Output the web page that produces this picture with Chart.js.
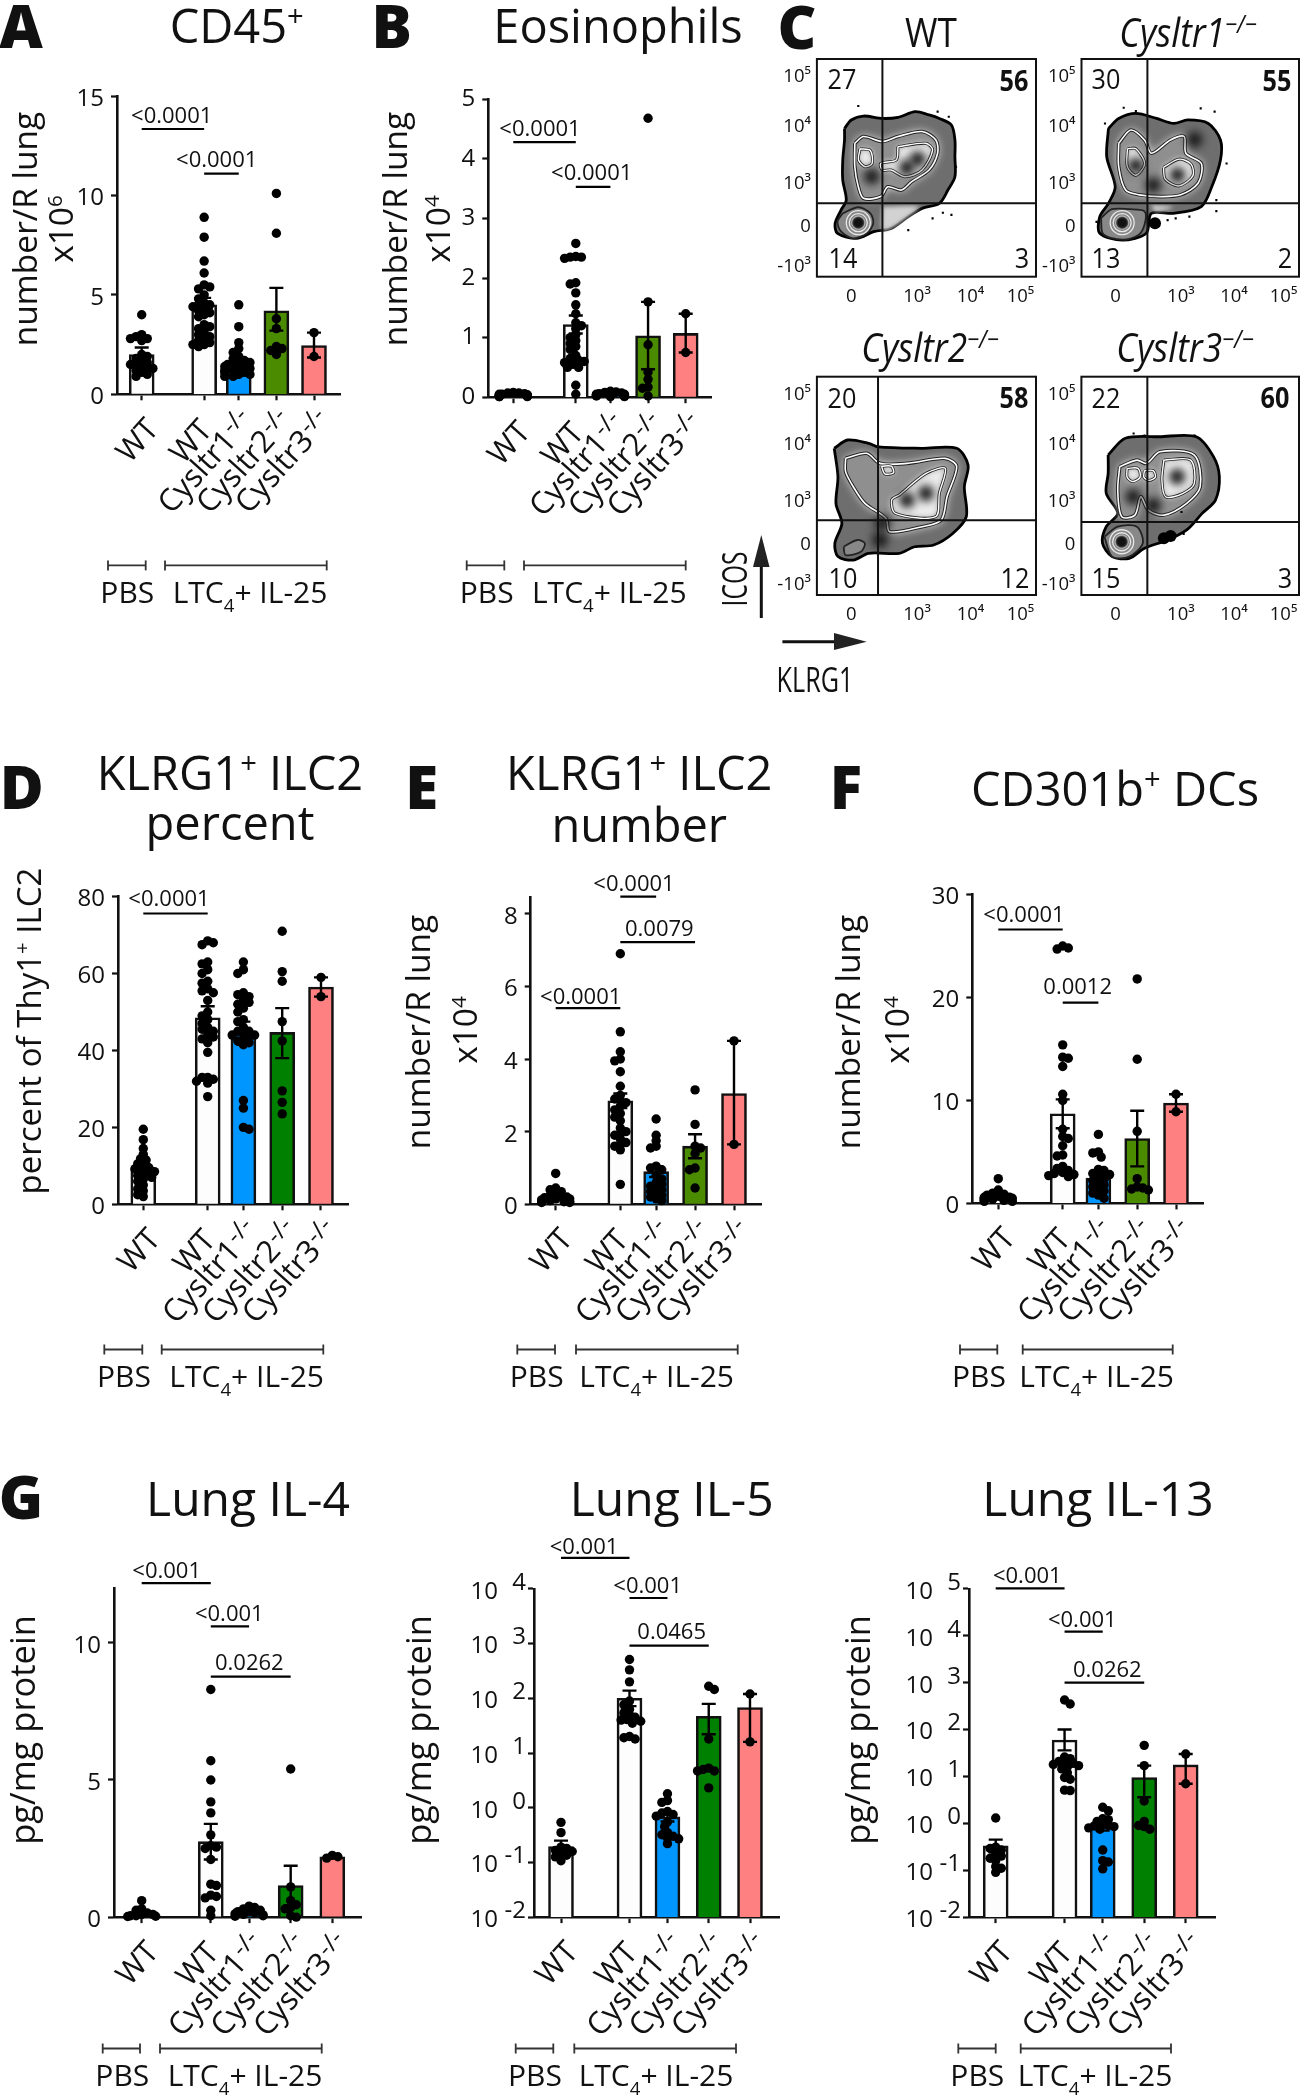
<!DOCTYPE html>
<html>
<head>
<meta charset="utf-8">
<title>Lung panels</title>
<script src="https://cdn.jsdelivr.net/npm/chart.js@4/dist/chart.umd.js"></script>
<style>
    html, body { margin: 0; background: #fff; }
    #page { position: relative; width: 1301px; height: 2100px; overflow: hidden; font-family: "Open Sans", sans-serif; color: #111; }
    #page canvas, #page svg { position: absolute; }
    .txt { position: absolute; white-space: nowrap; line-height: 1; }
    .txt sup { font-size: 0.62em; line-height: 0; vertical-align: 0.55em; }
    .txt sub { font-size: 0.62em; line-height: 0; vertical-align: -0.5em; }
</style>
</head>
<body>
<div id="page"></div>
<script>
// Groups, same order in every bar panel
const groupLabels = ['WT', 'WT', 'Cysltr1', 'Cysltr2', 'Cysltr3'];
const groupSup = ['', '', '-/-', '-/-', '-/-'];
const groupX = [0, 1.66, 2.58, 3.58, 4.58];

// CD45+
const cd45Ticks = [0, 5, 10, 15];
const cd45Means = [2.0, 4.5, 1.65, 4.2, 2.45];
const cd45Low = [1.65, 4.15, 1.45, 3.2, 1.85];
const cd45High = [2.35, 4.85, 1.85, 5.35, 3.1];
const cd45Sig = [[0, 1, 13.34], [1, 2, 11.1]];
const cd45Points = [
    [4.0, 3.0, 2.9, 2.8, 2.8, 2.7, 2.0, 1.9, 1.8, 1.7, 1.6, 1.5, 1.5, 1.4, 1.3, 1.3, 1.2, 1.1, 1.0, 0.9],
    [8.9, 7.9, 6.7, 6.1, 5.5, 5.4, 5.3, 5.0, 4.8, 4.6, 4.5, 4.5, 4.4, 4.3, 4.2, 4.1, 4.0, 3.9, 3.5, 3.4, 3.3, 3.1, 3.0, 2.9, 2.8, 2.7, 2.6, 2.5, 2.5, 2.4],
    [4.5, 3.4, 2.6, 2.3, 2.1, 1.9, 1.8, 1.7, 1.6, 1.6, 1.5, 1.5, 1.4, 1.4, 1.3, 1.3, 1.2, 1.2, 1.1, 1.1, 1.0, 1.0, 0.9, 0.9],
    [10.1, 8.1, 3.8, 3.3, 2.4, 2.3, 2.2, 2.0],
    [3.1, 1.9]
];

// Eosinophils
const eosTicks = [0, 1, 2, 3, 4, 5];
const eosMeans = [0.03, 1.22, 0.04, 1.03, 1.07];
const eosLow = [0.02, 1.07, 0.02, 0.47, 0.75];
const eosHigh = [0.05, 1.37, 0.06, 1.6, 1.4];
const eosSig = [[0, 1, 4.28], [1, 2, 3.53]];
const eosPoints = [
    [0.08, 0.07, 0.07, 0.06, 0.05, 0.05, 0.04, 0.04, 0.03, 0.03, 0.02, 0.02, 0.02, 0.01, 0.01, 0.01],
    [2.58, 2.36, 2.35, 2.35, 2.33, 1.92, 1.9, 1.75, 1.55, 1.4, 1.25, 1.2, 1.15, 1.05, 1.0, 0.95, 0.9, 0.85, 0.8, 0.7, 0.65, 0.62, 0.6, 0.58, 0.55, 0.5, 0.5, 0.2, 0.05],
    [0.1, 0.09, 0.08, 0.07, 0.06, 0.05, 0.05, 0.04, 0.04, 0.03, 0.03, 0.02, 0.02, 0.01, 0.01],
    [4.68, 1.6, 0.88, 0.42, 0.3, 0.17, 0.15, 0.02],
    [1.4, 0.75]
];

// KLRG1+ ILC2 percent
const pctTicks = [0, 20, 40, 60, 80];
const pctMeans = [9.3, 48.5, 44.5, 44.7, 56.5];
const pctLow = [8.1, 45.5, 41.5, 38, 54];
const pctHigh = [10.5, 51.5, 47.5, 51, 59];
const pctSig = [[0, 1, 75.6]];
const pctPoints = [
    [19.5, 16.8, 14.5, 13, 11.8, 11.5, 10.5, 10, 9.5, 9.2, 8.8, 8.5, 8, 7.5, 7, 6.5, 6, 5, 4, 3.5, 2.5, 2],
    [68.5, 68, 67.5, 63, 62.5, 61, 60, 58, 57.5, 56, 55.5, 55, 53, 50, 49, 48, 47, 46, 45.5, 45, 44, 43.5, 43, 42, 39.5, 33, 33, 32.5, 32, 31.5, 28],
    [63, 61, 60, 55, 54.5, 54, 53, 52.5, 52, 51, 50, 48, 47.5, 46, 45, 45, 44.5, 44, 44, 43.5, 43, 42.5, 42, 41.5, 27, 25, 20, 19.5],
    [71, 60.5, 58, 47.5, 42.5, 29.5, 26.5, 23.5],
    [59, 54]
];

// KLRG1+ ILC2 number
const numTicks = [0, 2, 4, 6, 8];
const numMeans = [0.2, 2.85, 0.9, 1.6, 3.05];
const numLow = [0.13, 2.65, 0.75, 1.27, 1.65];
const numHigh = [0.27, 3.05, 1.05, 1.93, 4.5];
const numSig = [[0, 1, 5.4], [1, 2, 8.47], [1, 3, 7.22]];
const numPoints = [
    [0.85, 0.45, 0.4, 0.35, 0.3, 0.25, 0.2, 0.2, 0.18, 0.15, 0.15, 0.12, 0.1, 0.1, 0.08, 0.07, 0.05, 0.05],
    [6.9, 4.75, 4.2, 4.0, 3.95, 3.65, 3.25, 3.0, 2.9, 2.85, 2.8, 2.7, 2.6, 2.5, 2.4, 2.3, 2.1, 2, 1.95, 1.9, 1.8, 1.7, 1.65, 1.6, 1.5, 0.55],
    [2.35, 1.9, 1.75, 1.6, 1.55, 1.05, 1, 0.95, 0.8, 0.7, 0.6, 0.55, 0.5, 0.45, 0.4, 0.35, 0.3, 0.25, 0.2, 0.15, 0.1],
    [3.15, 2.2, 1.6, 1.55, 1.4, 1.0, 0.95, 0.45],
    [4.5, 1.65]
];

// CD301b+ DCs
const dcTicks = [0, 10, 20, 30];
const dcMeans = [0.7, 8.7, 2.45, 6.3, 9.75];
const dcLow = [0.55, 7.3, 2.05, 3.6, 8.9];
const dcHigh = [0.85, 10.1, 2.85, 9, 10.6];
const dcSig = [[0, 1, 26.6], [1, 2, 19.5]];
const dcPoints = [
    [2.4, 1.3, 1.0, 0.9, 0.8, 0.7, 0.6, 0.6, 0.5, 0.5, 0.4, 0.4, 0.3, 0.3, 0.2, 0.2],
    [25, 24.8, 24.7, 15.4, 14.2, 14.1, 13.3, 10.6, 10, 7.2, 6.5, 6.3, 5.6, 4.7, 4.6, 3.6, 3.4, 3.2, 3.0, 2.9, 2.8, 2.7, 2.6],
    [6.7, 5, 4.9, 4.5, 3.3, 3.2, 2.9, 2.8, 2.6, 2.4, 2.2, 2, 1.8, 1.6, 1.4, 1.2, 1, 0.8, 0.5],
    [21.8, 14, 7, 2.4, 1.6, 1.5, 1.4, 1.3],
    [10.6, 8.9]
];

// Lung IL-4
const il4Ticks = [0, 5, 10];
const il4Means = [0.1, 2.75, 0.22, 1.15, 2.2];
const il4Low = [0.05, 2.1, 0.17, 0.43, 2.15];
const il4High = [0.15, 3.4, 0.27, 1.87, 2.25];
const il4Sig = [[0, 1, 12.18], [1, 2, 10.6], [1, 3, 8.77]];
const il4Points = [
    [0.6, 0.3, 0.25, 0.15, 0.1, 0.1, 0.05, 0.05, 0.03, 0.02],
    [8.3, 5.7, 5.0, 4.2, 3.8, 3.0, 2.6, 2.55, 2.5, 2.1, 1.2, 1.15, 0.8, 0.75, 0.7, 0.25, 0.05],
    [0.4, 0.35, 0.3, 0.25, 0.2, 0.2, 0.15, 0.12, 0.1, 0.08, 0.05, 0.03],
    [5.4, 1.1, 0.6, 0.45, 0.35, 0.3, 0.05, 0.0],
    [2.25, 2.2, 2.15]
];

// Lung IL-5 (log axis)
const il5Ticks = [0.01, 0.1, 1, 10, 100, 1000, 10000];
const il5Means = [0.195, 100, 0.68, 47, 68];
const il5Low = [0.15, 72, 0.56, 22, 16];
const il5High = [0.25, 138, 0.8, 79, 120];
const il5Sig = [[0, 1, 36983], [1, 2, 6823], [1, 3, 920]];
const il5Points = [
    [0.54, 0.35, 0.19, 0.18, 0.166, 0.158, 0.148, 0.135, 0.126, 0.107],
    [513, 331, 200, 89, 76, 63, 54, 50, 45, 41, 40, 38, 35, 20, 19, 18],
    [1.8, 1.35, 1.25, 0.85, 0.8, 0.75, 0.7, 0.55, 0.45, 0.35, 0.32, 0.3, 0.28, 0.27, 0.22],
    [166, 145, 18, 5.3, 5, 4.7, 4.7, 2.3],
    [120, 16]
];

// Lung IL-13 (log axis)
const il13Ticks = [0.01, 0.1, 1, 10, 100, 1000, 10000, 100000];
const il13Means = [0.33, 60, 0.9, 9.5, 17.6];
const il13Low = [0.24, 36, 0.7, 3.6, 7];
const il13High = [0.45, 100, 1.15, 17, 30];
const il13Sig = [[0, 1, 103000], [1, 2, 12300], [1, 3, 1000]];
const il13Points = [
    [1.3, 0.31, 0.29, 0.27, 0.22, 0.2, 0.18, 0.16, 0.12, 0.11, 0.09],
    [427, 350, 26, 24, 21, 20, 19, 18, 17, 16, 14.5, 12, 9.5, 8.7, 5.1, 5],
    [2.2, 1.85, 1.25, 1.2, 1.1, 0.95, 0.9, 0.88, 0.85, 0.8, 0.75, 0.27, 0.16, 0.15, 0.107],
    [46, 17, 3, 1.1, 0.9, 0.85, 0.75],
    [30, 7]
];

// Flow plots: channels are in percent of the axis length
const flowXTicks = [15.7, 45.7, 70.1, 92.9];
const flowXLabels = ['0', '10³', '10⁴', '10⁵'];
const flowYTicks = [4.6, 23, 42.9, 68.9, 91.9];
const flowYLabels = ['-10³', '0', '10³', '10⁴', '10⁵'];

const wtOuter = [[12.6,68.1],[15.7,72],[21.3,73.8],[29.9,72.7],[37,73.2],[44.9,75.8],[51.2,74.3],[55.9,72.7],[61.4,69.7],[63,62.8],[63,55.1],[63,45.9],[59.8,39.8],[55.9,33.7],[48,31.4],[41.7,27.6],[33.9,22.2],[26,20.7],[18.1,17.6],[9.4,19.9],[8.3,24.5],[11,30.6],[13.4,35.2],[11.8,44.4],[11.8,53.6],[12.6,62.8]];
const wtMid = [[17.3,61.3],[21.3,64.4],[29.9,62.1],[37,64.4],[48,66.7],[54.3,62.8],[55.1,56.7],[51.2,49],[43.3,43.7],[38.6,39.8],[32.4,41.3],[29.1,36.8],[21.3,36],[18.9,41.3],[17.3,50.5]];
const wtInner = [
    [[19.7,58.8],[24.4,58],[25.2,52],[22,50.5],[19,53.6]],
    [[37,59.7],[49.6,61.3],[52.8,58.2],[48,49],[40.2,45.9],[33.9,49],[29.9,49],[29.1,52],[36.2,53.6]]
];
const wtDark = [[46,54], [41,50], [25,46]];
const wtLymph = [[11.8,29.1],[18.9,31.9],[24.4,29.1],[25.7,24.5],[22.8,19.9],[16.5,17.6],[11,20.8],[9.4,25.3]];
const wtLymphCentre = [18.9, 24.8];
const wtPale = [[29.9,32.2],[46.5,32.2],[41.7,27.6],[33.9,22.2],[29.9,21.4]];
const wtBlack = [];
const wtStray = [[18.9,78.4],[55.1,75.8],[60.2,73.5],[41.7,21.4],[52.8,26.8],[61.4,28.4],[57.5,29.4],[63.5,50.5]];

const cys1Outer = [[12.4,68.1],[17.1,72.7],[25,75],[34.5,72.7],[42.4,70.4],[48.8,72],[58.3,70.4],[63.9,62.8],[63.9,53.6],[59.9,41.3],[55.1,32.2],[42.4,29.1],[32.1,29.1],[29.8,20],[18.7,16.8],[8.4,20],[8.4,27.6],[12.4,33.7],[15.5,41.3],[11.6,55.1]];
const cys1Mid = [[17.1,61.3],[22.7,67.4],[29,62.8],[32.2,56.7],[40.9,62.8],[47.2,64.4],[48,56.7],[55.1,52],[53.6,42.9],[45.6,37.6],[36.1,36.8],[26.6,37.6],[20.3,39.8],[17.1,50.5]];
const cys1Inner = [
    [[21.1,58.8],[25,58.8],[29,52],[25,46.6],[21.1,50.5]],
    [[37.7,50.2],[44.8,54],[50.4,51.7],[51.2,46.3],[44.8,41.7],[38.5,44.8]]
];
const cys1Dark = [[44.1,46.7], [52,63], [25,51], [33,42]];
const cys1Lymph = [[9,27],[14,31],[22,31],[29,30],[29,24],[26,19],[18.7,17],[10,19.5]];
const cys1LymphCentre = [18.7, 24.8];
const cys1Pale = [[32,33],[42,32],[34,30]];
const cys1Black = [[33.8,24.5]];
const cys1Stray = [[19.4,77.6],[25,76.1],[10.8,70.4],[54.8,77.3],[61.2,75.8],[6.9,25.2],[66.7,52],[62,35.2],[62,30.1],[49.6,27.6],[43.3,26.8],[39.6,26]];

const cys2Outer = [[7.9,67.2],[14,71],[23.6,69.5],[28,67.9],[48,67.2],[63.8,67.2],[69,59.5],[67.3,49.6],[68.2,35.9],[62,28.2],[53.3,22.9],[44.6,22.1],[37.6,19.1],[23.6,19.1],[16.6,16],[9.6,17.6],[8.2,23.7],[11.4,32.8],[8.7,41.9],[9.6,54.1]];
const cys2Mid = [[13.1,62.6],[22.7,64.9],[28.8,60.3],[41.1,60.3],[58.6,62.6],[63.8,58.8],[59.4,45],[56.8,34.4],[48,31.3],[33.2,29],[31.5,35.1],[21.9,42],[16.6,49.6],[13.1,56.5]];
const cys2Inner = [
    [[37.6,45.8],[49.8,55.7],[58.6,58],[55.9,46.6],[54.2,35.9],[35.8,37.4],[34.1,43.5]],
    [[29.5,59],[34,59],[35,56],[31,55.5]]
];
const cys2Dark = [[49.8,46.6], [41.1,43.5], [28.8,25.2], [30,33]];
const cys2Lymph = [[12.2,22.1],[18.4,25.2],[21.9,23.7],[20.1,19.8],[13.1,18.3]];
const cys2LymphCentre = null;
const cys2Pale = [];
const cys2Black = [];
const cys2Stray = [];

const cys3Outer = [[12.3,64.1],[20.2,71.8],[36,72.5],[52.8,72.5],[60.7,63.4],[63.4,54.2],[61.6,43.5],[55.5,37.4],[48.4,29.8],[39.6,25.2],[29,21.4],[22,16.8],[14.1,17.6],[9.7,23.7],[11.4,31.3],[16.7,37.4],[11.4,46.6],[12.3,55.7]];
const cys3Mid = [[17.6,58.8],[25.5,61.8],[29.9,60.3],[36.1,65.6],[51.9,64.1],[54.6,49.6],[48.4,42],[37.9,36.6],[30.8,38.9],[27.3,45],[24.6,36.6],[18.5,35.9],[16.7,48.1]];
const cys3Inner = [
    [[37.9,61.8],[50.2,61.8],[51.9,51.1],[46.7,46.6],[38.7,45],[37,52.7]],
    [[21,58],[26,58],[27,54],[23.5,52],[21,54]],
    [[29,57],[33,57],[34,54],[31,52.5],[28.7,54]]
];
const cys3Dark = [[44,54.2], [23.8,45], [33,41]];
const cys3Lymph = [[10.6,26.7],[16.7,31.3],[25.5,31.3],[28.2,23.7],[22,17.6],[14.1,17.6]];
const cys3LymphCentre = [18.5, 24.4];
const cys3Pale = [];
const cys3Black = [[37.9,26], [41,27]];
const cys3Stray = [[24,74],[29,73],[52,73],[46,38],[47,28]];

// Bar colours
const WHITE = '#fdfdfd', BLUE = '#0096ff', OLIVE = '#4b8b00', GREEN = '#008000', PINK = '#ff8080';

// Where each bar panel sits on the page
const barPanels = [
    { means: cd45Means, low: cd45Low, high: cd45High, points: cd45Points, ticks: cd45Ticks, sig: cd45Sig, green: OLIVE, yMax: 15, left: 117, right: 340, top: 96, bottom: 394.3, first: 141.7, last: 314, labelDrop: 3 },
    { means: eosMeans, low: eosLow, high: eosHigh, points: eosPoints, ticks: eosTicks, sig: eosSig, green: OLIVE, yMax: 5, left: 488.3, right: 711.7, top: 99.2, bottom: 397.2, first: 513.3, last: 685.7, labelDrop: 0 },
    { means: pctMeans, low: pctLow, high: pctHigh, points: pctPoints, ticks: pctTicks, sig: pctSig, green: GREEN, yMax: 80, left: 118, right: 348, top: 896.6, bottom: 1204.3, first: 143.3, last: 321, labelDrop: 3 },
    { means: numMeans, low: numLow, high: numHigh, points: numPoints, ticks: numTicks, sig: numSig, green: OLIVE, yMax: 8.44, left: 530.7, right: 761.7, top: 897.8, bottom: 1204.3, first: 555.7, last: 734, labelDrop: 3 },
    { means: dcMeans, low: dcLow, high: dcHigh, points: dcPoints, ticks: dcTicks, sig: dcSig, green: OLIVE, yMax: 30, left: 972.3, right: 1203.3, top: 894.5, bottom: 1203.4, first: 998.3, last: 1176, labelDrop: 3 },
    { means: il4Means, low: il4Low, high: il4High, points: il4Points, ticks: il4Ticks, sig: il4Sig, green: GREEN, yMax: 12, left: 114, right: 361.7, top: 1588, bottom: 1917.1, first: 141.7, last: 332.3, labelDrop: 3 },
    { means: il5Means, low: il5Low, high: il5High, points: il5Points, ticks: il5Ticks, sig: il5Sig, green: GREEN, yMin: 0.01, yMax: 10000, log: true, left: 534, right: 779.3, top: 1588.9, bottom: 1917.1, first: 561, last: 750, labelDrop: 3 },
    { means: il13Means, low: il13Low, high: il13High, points: il13Points, ticks: il13Ticks, sig: il13Sig, green: GREEN, yMin: 0.01, yMax: 100000, log: true, left: 969, right: 1215, top: 1588.9, bottom: 1917.1, first: 995.7, last: 1185.7, labelDrop: 3 }
];

const flowPanels = [
    { outer: wtOuter, mid: wtMid, inner: wtInner, dark: wtDark, lymph: wtLymph, centre: wtLymphCentre, pale: wtPale, black: wtBlack, stray: wtStray, left: 816.9, right: 1036, top: 59, bottom: 276.7, qx: 29.9, qy: 33.7 },
    { outer: cys1Outer, mid: cys1Mid, inner: cys1Inner, dark: cys1Dark, lymph: cys1Lymph, centre: cys1LymphCentre, pale: cys1Pale, black: cys1Black, stray: cys1Stray, left: 1081.5, right: 1299, top: 59, bottom: 276.7, qx: 30.3, qy: 33.7 },
    { outer: cys2Outer, mid: cys2Mid, inner: cys2Inner, dark: cys2Dark, lymph: cys2Lymph, centre: cys2LymphCentre, pale: cys2Pale, black: cys2Black, stray: cys2Stray, left: 816.9, right: 1036, top: 376.7, bottom: 595, qx: 27.9, qy: 34.2 },
    { outer: cys3Outer, mid: cys3Mid, inner: cys3Inner, dark: cys3Dark, lymph: cys3Lymph, centre: cys3LymphCentre, pale: cys3Pale, black: cys3Black, stray: cys3Stray, left: 1081.4, right: 1299, top: 376.7, bottom: 595, qx: 30.3, qy: 33.4 }
];

// Text: centre x, centre y, html, size, extra options
const FONT = '"Open Sans", sans-serif';
const CONDENSED = 0.88;
const pageTexts = [
    // panel letters
    [21, 25, 'A', 60, { weight: 800 }], [391.7, 25, 'B', 60, { weight: 800 }], [797, 26, 'C', 60, { weight: 800 }],
    [21.7, 786, 'D', 60, { weight: 800 }], [421.7, 786, 'E', 60, { weight: 800 }], [846, 786, 'F', 60, { weight: 800 }], [21, 1496, 'G', 60, { weight: 800 }],
    // titles
    [236.7, 25, 'CD45<sup>+</sup>', 47], [618, 25, 'Eosinophils', 47],
    [230, 771.6, 'KLRG1<sup>+</sup> ILC2', 47], [230, 822, 'percent', 47],
    [639.3, 771.6, 'KLRG1<sup>+</sup> ILC2', 47], [639.3, 824, 'number', 47],
    [1115, 788.4, 'CD301b<sup>+</sup> DCs', 47],
    [248, 1497.7, 'Lung IL-4', 48], [671.7, 1497.7, 'Lung IL-5', 48], [1098, 1497.7, 'Lung IL-13', 48],
    // y axis titles
    [25, 228.6, 'number/R lung', 33.5, { rot: -90 }], [61, 228.6, 'x10<sup>6</sup>', 33.5, { rot: -90 }],
    [395, 228.6, 'number/R lung', 33.5, { rot: -90 }], [438, 228.6, 'x10<sup>4</sup>', 33.5, { rot: -90 }],
    [28, 1030.5, 'percent of Thy1<sup>+</sup> ILC2', 33, { rot: -90 }],
    [418, 1031.5, 'number/R lung', 33.5, { rot: -90 }], [465, 1030.4, 'x10<sup>4</sup>', 33.5, { rot: -90 }],
    [848.3, 1031.5, 'number/R lung', 33.5, { rot: -90 }], [897, 1030.4, 'x10<sup>4</sup>', 33.5, { rot: -90 }],
    [21.7, 1729.8, 'pg/mg protein', 34.5, { rot: -90 }], [418, 1729.8, 'pg/mg protein', 34.5, { rot: -90 }], [856.7, 1729.8, 'pg/mg protein', 34.5, { rot: -90 }],
    // p values
    [171.7, 113.5, '&lt;0.0001', 22], [216.7, 158.4, '&lt;0.0001', 22],
    [540, 126.5, '&lt;0.0001', 22], [591.7, 170.6, '&lt;0.0001', 22],
    [169, 896.6, '&lt;0.0001', 22],
    [580.7, 994.6, '&lt;0.0001', 22], [634, 881.8, '&lt;0.0001', 22], [659.3, 926.5, '0.0079', 22],
    [1024, 912.6, '&lt;0.0001', 22], [1077.7, 985.4, '0.0012', 22],
    [166.7, 1569.4, '&lt;0.001', 22], [229.3, 1611.7, '&lt;0.001', 22], [249.3, 1660.6, '0.0262', 22],
    [584, 1544.5, '&lt;0.001', 22], [647.7, 1583.9, '&lt;0.001', 22], [671.7, 1630.3, '0.0465', 22],
    [1027.3, 1573.5, '&lt;0.001', 22], [1082.3, 1617.9, '&lt;0.001', 22], [1107.3, 1667.6, '0.0262', 22],
    // treatment groups
    [127.3, 592, 'PBS', 30], [250, 592, 'LTC<sub>4</sub>+ IL-25', 30],
    [486.7, 592, 'PBS', 30], [609.3, 592, 'LTC<sub>4</sub>+ IL-25', 30],
    [124, 1375.6, 'PBS', 30], [246.7, 1375.6, 'LTC<sub>4</sub>+ IL-25', 30],
    [536.7, 1375.6, 'PBS', 30], [656.7, 1375.6, 'LTC<sub>4</sub>+ IL-25', 30],
    [979, 1375.6, 'PBS', 30], [1096.7, 1375.6, 'LTC<sub>4</sub>+ IL-25', 30],
    [122.3, 2075, 'PBS', 30], [245, 2075, 'LTC<sub>4</sub>+ IL-25', 30],
    [535, 2075, 'PBS', 30], [656, 2075, 'LTC<sub>4</sub>+ IL-25', 30],
    [977.3, 2075, 'PBS', 30], [1095, 2075, 'LTC<sub>4</sub>+ IL-25', 30],
    // flow plots
    [930.8, 32, 'WT', 40, { sx: CONDENSED }], [1188, 32, '<i>Cysltr1</i><sup><i>−/−</i></sup>', 40, { sx: CONDENSED }],
    [930, 346.7, '<i>Cysltr2</i><sup><i>−/−</i></sup>', 40, { sx: CONDENSED }], [1185, 346.7, '<i>Cysltr3</i><sup><i>−/−</i></sup>', 40, { sx: CONDENSED }],
    [841.8, 78.3, '27', 28, { sx: 0.9 }], [1014.3, 80, '56', 28, { sx: 0.9, weight: 700 }], [842.8, 256.7, '14', 28, { sx: 0.9 }], [1022.2, 256.7, '3', 28, { sx: 0.9 }],
    [1106, 78.3, '30', 28, { sx: 0.9 }], [1276.5, 80, '55', 28, { sx: 0.9, weight: 700 }], [1106, 256.7, '13', 28, { sx: 0.9 }], [1285.4, 256.7, '2', 28, { sx: 0.9 }],
    [841.8, 396.7, '20', 28, { sx: 0.9 }], [1013.5, 396.7, '58', 28, { sx: 0.9, weight: 700 }], [842.6, 577.3, '10', 28, { sx: 0.9 }], [1015, 577.3, '12', 28, { sx: 0.9 }],
    [1106.3, 396.7, '22', 28, { sx: 0.9 }], [1275, 396.7, '60', 28, { sx: 0.9, weight: 700 }], [1106.3, 577.3, '15', 28, { sx: 0.9 }], [1284.5, 577.3, '3', 28, { sx: 0.9 }],
    [732.6, 579, 'ICOS', 35, { rot: -90, sx: 0.7 }], [815, 678.3, 'KLRG1', 35, { sx: 0.72 }]
];

// Treatment brackets: from x, to x, y
const brackets = [
    [108, 145.7, 565.4], [165, 326.7, 565.4], [466.7, 504.3, 565.4], [524, 685.7, 565.4],
    [104.3, 142.3, 1349.5], [161.7, 323.3, 1349.5], [517.3, 555, 1349.5], [576, 737.7, 1349.5],
    [960, 997.3, 1349.5], [1022.7, 1172.7, 1349.5],
    [102.7, 140, 2048.5], [160, 321.7, 2048.5], [515.7, 553.3, 2048.5], [574.3, 736, 2048.5],
    [958.3, 995.7, 2048.5], [1020.7, 1171, 2048.5]
];

const page = document.getElementById('page');

function addText(item) {
    const [x, y, html, size, opt = {}] = item;
    const el = document.createElement('div');
    el.className = 'txt';
    el.style.left = x + 'px';
    el.style.top = y + 'px';
    el.style.fontSize = size + 'px';
    el.style.fontWeight = opt.weight || 400;
    el.innerHTML = html;
    const rot = opt.rot ? ` rotate(${opt.rot}deg)` : '';
    const scale = opt.sx ? ` scale(${opt.sx}, 1)` : '';
    el.style.transform = `translate(-50%, -50%)${rot}${scale}`;
    page.appendChild(el);
}

// Brackets and the two arrows next to panel C
function addOverlay() {
    const ns = 'http://www.w3.org/2000/svg';
    const svg = document.createElementNS(ns, 'svg');
    svg.setAttribute('width', 1301);
    svg.setAttribute('height', 2100);
    svg.style.left = '0';
    svg.style.top = '0';
    const line = (x1, y1, x2, y2, w, c) => {
        const l = document.createElementNS(ns, 'line');
        Object.entries({ x1, y1, x2, y2, stroke: c, 'stroke-width': w }).forEach(([k, v]) => l.setAttribute(k, v));
        svg.appendChild(l);
    };
    brackets.forEach(([a, b, y]) => {
        line(a, y, b, y, 1.8, '#333');
        line(a, y - 5, a, y + 5, 1.8, '#333');
        line(b, y - 5, b, y + 5, 1.8, '#333');
    });
    line(761.3, 618, 761.3, 560, 3, '#111');
    line(782.4, 641.7, 840, 641.7, 3, '#111');
    const arrows = ['753,567 769.5,567 761.3,535', '834,633 834,650 866.7,641.7'];
    arrows.forEach(points => {
        const p = document.createElementNS(ns, 'polygon');
        p.setAttribute('points', points);
        p.setAttribute('fill', '#222');
        svg.appendChild(p);
    });
    page.appendChild(svg);
}

function newCanvas(x0, y0, w, h) {
    const canvas = document.createElement('canvas');
    canvas.width = w;
    canvas.height = h;
    canvas.style.left = x0 + 'px';
    canvas.style.top = y0 + 'px';
    page.appendChild(canvas);
    return canvas;
}

// Sideways spread of the dots so they do not stack on one line
function swarmOffsets(values, toPx) {
    const placed = [];
    return values.map((v, idx) => {
        const py = toPx(v);
        const side = idx % 2 ? 1 : -1;
        let off = 0;
        for (let k = 0; k < 11; k++) {
            off = k === 0 ? 0 : side * (k % 2 ? 1 : -1) * Math.ceil(k / 2) * 2.8;
            if (placed.every(p => Math.hypot(off - p.off, py - p.py) >= 5.2)) break;
        }
        placed.push({ off, py });
        return off;
    });
}

// Error bars on top of the dots
const errorBarsPlugin = {
    id: 'errorBars',
    afterDatasetsDraw(chart, args, opts) {
        const { ctx, scales: { x, y } } = chart;
        ctx.save();
        ctx.strokeStyle = '#000';
        ctx.lineWidth = 2.4;
        groupX.forEach((gx, i) => {
            const px = x.getPixelForValue(gx);
            const yLow = y.getPixelForValue(opts.low[i]);
            const yHigh = y.getPixelForValue(opts.high[i]);
            ctx.beginPath();
            ctx.moveTo(px, yLow);
            ctx.lineTo(px, yHigh);
            ctx.moveTo(px - 7, yLow);
            ctx.lineTo(px + 7, yLow);
            ctx.moveTo(px - 7, yHigh);
            ctx.lineTo(px + 7, yHigh);
            ctx.stroke();
        });
        ctx.restore();
    }
};

// Category names, slanted; each one sits a bit differently under its tick
const LABEL_SHIFT = [[12, 30], [3, 31], [10, 22], [11, 22], [12, 22]];
const groupLabelsPlugin = {
    id: 'groupNames',
    afterDraw(chart) {
        const { ctx, scales: { x } } = chart;
        groupLabels.forEach((name, i) => {
            const px = x.getPixelForValue(groupX[i]) + LABEL_SHIFT[i][0];
            ctx.save();
            ctx.translate(px, x.top + LABEL_SHIFT[i][1]);
            ctx.rotate(-48 * Math.PI / 180);
            ctx.fillStyle = '#111';
            ctx.textBaseline = 'middle';
            ctx.textAlign = 'right';
            let end = 0;
            if (groupSup[i]) {
                ctx.font = `25px ${FONT}`;
                ctx.fillText(groupSup[i], 0, -7);
                end = ctx.measureText(groupSup[i]).width + 1;
            }
            ctx.font = `31px ${FONT}`;
            ctx.fillText(name, -end, 0);
            ctx.restore();
        });
    }
};

// Raised exponents next to the "10" of the log axes
const exponentsPlugin = {
    id: 'exponents',
    afterDraw(chart) {
        const { ctx, scales: { y } } = chart;
        if (y.type !== 'logarithmic') return;
        ctx.save();
        ctx.fillStyle = '#111';
        ctx.font = `24px ${FONT}`;
        ctx.textAlign = 'right';
        ctx.textBaseline = 'middle';
        y.ticks.forEach(t => {
            ctx.fillText(String(Math.round(Math.log10(t.value))), y.right - 8, y.getPixelForValue(t.value) - 6);
        });
        ctx.restore();
    }
};

function drawBarPanel(p) {
    const yw = 80, xh = 10;
    const x0 = Math.round(p.left - 95), y0 = Math.round(p.top - 60);
    const w = Math.round(p.right + 25 - x0), h = Math.round(p.bottom + 160 - y0);
    const unit = (p.last - p.first) / groupX[groupX.length - 1];
    const xMin = -(p.first - p.left) / unit;
    const xMax = (p.right - p.first) / unit;

    const height = p.bottom - p.top;
    const toPx = p.log
        ? v => (Math.log10(v) - Math.log10(p.yMin)) / (Math.log10(p.yMax) - Math.log10(p.yMin)) * height
        : v => v / p.yMax * height;

    const dots = [];
    p.points.forEach((values, i) => {
        const offs = swarmOffsets(values, toPx);
        values.forEach((v, j) => dots.push({ x: groupX[i] + offs[j] / unit, y: v }));
    });

    const colors = [WHITE, WHITE, BLUE, p.green, PINK];
    const datasets = [
        {
            type: 'bar',
            data: groupX.map((x, i) => ({ x, y: p.means[i] })),
            backgroundColor: colors,
            borderColor: '#111',
            borderWidth: 2.6,
            barThickness: 25,
            order: 3
        },
        {
            type: 'scatter',
            data: dots,
            pointRadius: 4.7,
            pointBackgroundColor: '#000',
            pointBorderWidth: 0,
            clip: false,
            order: 2
        }
    ];
    p.sig.forEach(([a, b, v]) => {
        datasets.push({
            type: 'line',
            data: [{ x: groupX[a], y: v }, { x: groupX[b], y: v }],
            borderColor: '#000',
            borderWidth: 2.2,
            pointRadius: 0,
            clip: false,
            order: 1
        });
    });

    const yScale = {
        type: p.log ? 'logarithmic' : 'linear',
        min: p.log ? p.yMin : 0,
        max: p.yMax,
        border: { display: true, color: '#111', width: 2.6 },
        grid: { display: true, drawOnChartArea: false, tickLength: 6, tickWidth: 2.2, tickColor: '#111' },
        ticks: {
            autoSkip: false,
            color: '#111',
            font: { family: FONT, size: 24 },
            padding: p.log ? 30 : 7,
            labelOffset: p.labelDrop,
            callback: v => (p.log ? '10' : String(v))
        },
        afterBuildTicks: s => { s.ticks = p.ticks.map(value => ({ value })); },
        afterFit: s => { s.width = yw; s.paddingTop = 0; s.paddingBottom = 0; }
    };
    const xScale = {
        type: 'linear',
        min: xMin,
        max: xMax,
        offset: false,
        border: { display: true, color: '#111', width: 2.6 },
        grid: { display: true, offset: false, drawOnChartArea: false, tickLength: 6, tickWidth: 2.2, tickColor: '#111' },
        ticks: { display: false },
        afterBuildTicks: s => { s.ticks = groupX.map(value => ({ value })); },
        afterFit: s => { s.height = xh; s.paddingLeft = 0; s.paddingRight = 0; }
    };

    new Chart(newCanvas(x0, y0, w, h).getContext('2d'), {
        type: 'bar',
        data: { datasets },
        options: {
            responsive: false,
            animation: false,
            events: [],
            layout: { autoPadding: false, padding: { left: p.left - x0 - yw, right: x0 + w - p.right, top: p.top - y0, bottom: y0 + h - p.bottom - xh } },
            scales: { x: xScale, y: yScale },
            plugins: {
                legend: { display: false },
                tooltip: { enabled: false },
                errorBars: { low: p.low, high: p.high }
            }
        },
        plugins: [errorBarsPlugin, groupLabelsPlugin, exponentsPlugin]
    });
}

// Fills (optionally blurred) for the density shapes of the flow plots
const flowShapesPlugin = {
    id: 'flowShapes',
    beforeDatasetDraw(chart, args) {
        const ds = chart.data.datasets[args.index];
        const ctx = chart.ctx;
        if (ds.shapeFill) {
            ctx.save();
            if (ds.blurPx) ctx.filter = `blur(${ds.blurPx}px)`;
            ctx.fillStyle = ds.shapeFill;
            args.meta.dataset.updateControlPoints(chart.chartArea);
            ctx.beginPath();
            args.meta.dataset.path(ctx);
            ctx.closePath();
            ctx.fill();
            ctx.restore();
        }
        if (ds.pointBlur) {
            ctx.save();
            ctx.filter = `blur(${ds.pointBlur}px)`;
        }
    },
    afterDatasetDraw(chart, args) {
        if (chart.data.datasets[args.index].pointBlur) chart.ctx.restore();
    },
    afterDraw(chart) {
        const { ctx, chartArea: a } = chart;
        ctx.save();
        ctx.strokeStyle = '#111';
        ctx.lineWidth = 2;
        ctx.strokeRect(a.left, a.top, a.right - a.left, a.bottom - a.top);
        ctx.restore();
    }
};

function closed(points) {
    return points.concat([points[0]]).map(([x, y]) => ({ x, y }));
}

function shape(points, opts) {
    return Object.assign({ type: 'line', data: closed(points), tension: 0.3, pointRadius: 0, borderWidth: 0, borderColor: 'transparent' }, opts);
}

function spots(points, opts) {
    return Object.assign({ type: 'scatter', data: points.map(([x, y]) => ({ x, y })), pointBorderWidth: 0 }, opts);
}

function drawFlowPanel(p) {
    const yw = 60, xh = 40;
    const x0 = Math.round(p.left - 65), y0 = Math.round(p.top - 12);
    const w = Math.round(p.right + 2 - x0), h = Math.round(p.bottom + 42 - y0);

    // order: first listed is painted first, so number downwards
    const layers = [];
    layers.push(shape(p.outer, { shapeFill: '#6e6e6e', borderColor: '#000', borderWidth: 2.8 }));
    layers.push(shape(p.mid, { shapeFill: '#f0f0f0', blurPx: 5 }));
    if (p.pale.length) layers.push(shape(p.pale, { shapeFill: '#d2d2d2', blurPx: 2 }));
    layers.push(shape(p.mid, { shapeFill: '#8f8f8f', borderColor: '#222', borderWidth: 3.6 }));
    layers.push(shape(p.mid, { borderColor: '#fff', borderWidth: 1.6 }));
    p.inner.forEach(poly => {
        layers.push(shape(poly, { shapeFill: '#ececec', blurPx: 3 }));
        layers.push(shape(poly, { borderColor: '#222', borderWidth: 3 }));
        layers.push(shape(poly, { borderColor: '#fff', borderWidth: 1.4 }));
    });
    layers.push(spots(p.dark, { pointRadius: 8, pointBackgroundColor: '#1c1c1c', pointBlur: 4 }));
    layers.push(shape(p.lymph, { shapeFill: '#888', borderColor: '#222', borderWidth: 1.8 }));
    if (p.centre) {
        [12, 9, 6.5].forEach(r => {
            layers.push(spots([p.centre], { pointRadius: r, pointBackgroundColor: 'transparent', pointBorderColor: '#e8e8e8', pointBorderWidth: 1.3 }));
        });
        layers.push(spots([p.centre], { pointRadius: 6, pointBackgroundColor: '#111', pointBlur: 1 }));
    }
    if (p.black.length) layers.push(spots(p.black, { pointRadius: 6, pointBackgroundColor: '#000' }));
    if (p.stray.length) layers.push(spots(p.stray, { pointRadius: 1.5, pointStyle: 'rect', pointBackgroundColor: '#000' }));
    // quadrant gates
    layers.push({ type: 'line', data: [{ x: p.qx, y: 0 }, { x: p.qx, y: 100 }], borderColor: '#111', borderWidth: 2, pointRadius: 0 });
    layers.push({ type: 'line', data: [{ x: 0, y: p.qy }, { x: 100, y: p.qy }], borderColor: '#111', borderWidth: 2, pointRadius: 0 });
    layers.forEach((ds, i) => { ds.order = layers.length - i; });

    new Chart(newCanvas(x0, y0, w, h).getContext('2d'), {
        type: 'scatter',
        data: { datasets: layers },
        options: {
            responsive: false,
            animation: false,
            events: [],
            layout: { autoPadding: false, padding: { left: p.left - x0 - yw, right: x0 + w - p.right, top: p.top - y0, bottom: y0 + h - p.bottom - xh } },
            scales: {
                x: {
                    type: 'linear', min: 0, max: 100,
                    grid: { display: true, drawOnChartArea: false, tickLength: 9, tickColor: 'transparent' },
                    border: { display: false },
                    ticks: {
                        autoSkip: false, maxRotation: 0, minRotation: 0, padding: 0,
                        color: '#111', font: { family: FONT, size: 18.5 },
                        callback: v => flowXLabels[flowXTicks.indexOf(v)]
                    },
                    afterBuildTicks: s => { s.ticks = flowXTicks.map(value => ({ value })); },
                    afterFit: s => { s.height = xh; s.paddingLeft = 0; s.paddingRight = 0; }
                },
                y: {
                    type: 'linear', min: 0, max: 100,
                    grid: { display: false, tickLength: 6 }, border: { display: false },
                    ticks: {
                        autoSkip: false, padding: 0,
                        color: '#111', font: { family: FONT, size: 18.5 },
                        callback: v => flowYLabels[flowYTicks.indexOf(v)]
                    },
                    afterBuildTicks: s => { s.ticks = flowYTicks.map(value => ({ value })); },
                    afterFit: s => { s.width = yw; s.paddingTop = 0; s.paddingBottom = 0; }
                }
            },
            plugins: { legend: { display: false }, tooltip: { enabled: false } }
        },
        plugins: [flowShapesPlugin]
    });
}

barPanels.forEach(drawBarPanel);
flowPanels.forEach(drawFlowPanel);
addOverlay();
pageTexts.forEach(addText);
</script>
</body>
</html>
